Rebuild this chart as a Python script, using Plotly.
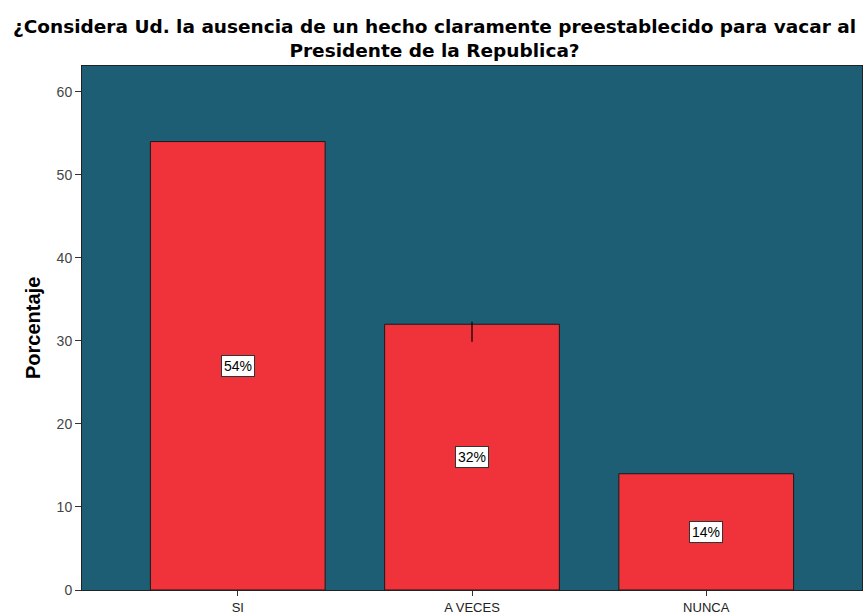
import plotly.graph_objects as go

categories = ["SI", "A VECES", "NUNCA"]
percent = [54, 32, 14]
labels = ["54%", "32%", "14%"]
err_plus = [0, 0.3, 0]
err_minus = [0, 2.1, 0]

title_text = ("¿Considera Ud. la ausencia de un hecho claramente preestablecido para vacar al"
              "<br>Presidente de la Republica?")

fig = go.Figure()

fig.add_trace(go.Bar(
    x=categories,
    y=percent,
    width=0.746,
    marker=dict(color="#f0323b", line=dict(color="#1a1a1a", width=1)),
    error_y=dict(type="data", symmetric=False, array=err_plus, arrayminus=err_minus,
                 color="black", thickness=1.2, width=0),
    hoverinfo="x+y",
))

# percentage labels in the middle of each bar
for cat, val, lab in zip(categories, percent, labels):
    fig.add_annotation(
        x=cat, y=val / 2, text=lab, showarrow=False,
        font=dict(family="Liberation Sans, Arial", size=14, color="black"),
        bgcolor="white", bordercolor="#333333", borderwidth=1, borderpad=2,
    )

fig.add_annotation(
    xref="paper", yref="paper", x=(434 - 82) / 780, y=1, yshift=3,
    xanchor="center", yanchor="bottom", showarrow=False,
    text="<b>" + title_text + "</b>",
    font=dict(family="DejaVu Sans", size=18.5, color="black"),
)

fig.add_annotation(
    xref="paper", yref="paper", x=0, xshift=-49, y=0.5,
    xanchor="center", yanchor="middle", showarrow=False, textangle=-90,
    text="<b>Porcentaje</b>",
    font=dict(family="Liberation Sans, Arial", size=20, color="black"),
)

fig.update_layout(
    width=866, height=616,
    margin=dict(l=82, r=4, t=66, b=26, autoexpand=False),
    paper_bgcolor="white",
    plot_bgcolor="#1d5e74",
    showlegend=False,
    font=dict(family="Liberation Sans, Arial", size=12, color="#333333"),
)

fig.update_xaxes(
    range=[-0.665, 2.665], automargin=False,
    showline=True, linecolor="#222222", linewidth=1, mirror=True,
    ticks="outside", ticklen=5, tickcolor="#333333",
    showgrid=False,
    tickfont=dict(size=13, color="#222222"),
)
fig.update_yaxes(
    range=[0, 63.1], automargin=False,
    tickvals=[0, 10, 20, 30, 40, 50, 60],
    showline=True, linecolor="#222222", linewidth=1, mirror=True,
    ticks="outside", ticklen=6, tickcolor="#333333",
    showgrid=False, zeroline=False,
    tickfont=dict(size=14, color="#444444"),
)

# drop the default page margin so the figure sits at the window's corner
fig.write_html("out.html", config={"displayModeBar": False},
               post_script="document.body.style.margin='0';")
